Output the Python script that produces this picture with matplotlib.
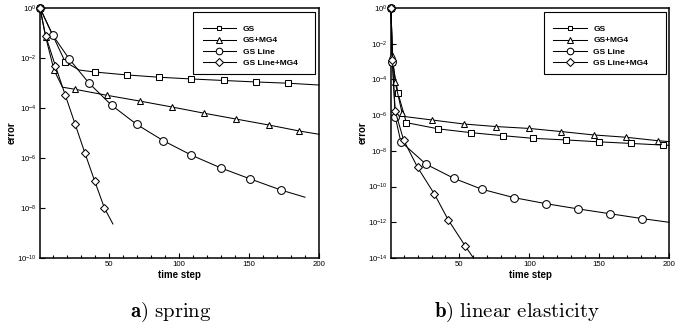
#!/usr/bin/env python

import numpy as np
import matplotlib
matplotlib.use('Agg')
import matplotlib.pyplot as plt
from matplotlib.lines import Line2D
from matplotlib.patches import Rectangle
from matplotlib.ticker import MultipleLocator, NullLocator, FixedLocator

plt.rcParams['font.family'] = ['Liberation Sans', 'DejaVu Sans']

labels = ['GS', 'GS+MG4', 'GS Line', 'GS Line+MG4']
markers = ['s', '^', 'o', 'D']
msizes = [4.0, 4.4, 5.6, 4.3]

# spring case: time step vs error
spring_gs_t = [1, 19, 29, 40, 63, 86, 109, 132, 155, 178, 200]
spring_gs_e = [1.0, 6.9e-3, 3.3e-3, 2.75e-3, 2.1e-3, 1.7e-3, 1.45e-3,
               1.26e-3, 1.1e-3, 9.8e-4, 8.3e-4]
spring_gs_m = [0, 1, 3, 4, 5, 6, 7, 8, 9]

spring_mg_t = [1, 5, 11, 17, 26, 49, 72, 95, 118, 141, 164, 186, 200]
spring_mg_e = [1.0, 7.1e-2, 3.3e-3, 6.8e-4, 5.6e-4, 3.2e-4, 1.9e-4,
               1.1e-4, 6.2e-5, 3.6e-5, 2.1e-5, 1.2e-5, 8.9e-6]
spring_mg_m = [0, 1, 2, 4, 5, 6, 7, 8, 9, 10, 11]

spring_line_t = [1, 10, 22, 36, 52, 70, 89, 109, 130, 151, 173, 190]
spring_line_e = [1.0, 8.3e-2, 8.9e-3, 9.8e-4, 1.3e-4, 2.2e-5, 4.9e-6,
                 1.3e-6, 4.0e-7, 1.45e-7, 5.2e-8, 2.7e-8]
spring_line_m = list(range(11))

spring_lmg_t = [1, 5, 12, 19, 26, 33, 40, 47, 53]
spring_lmg_e = [1.0, 7.8e-2, 4.8e-3, 3.3e-4, 2.3e-5, 1.6e-6, 1.2e-7,
                9.8e-9, 2.3e-9]
spring_lmg_m = list(range(8))

# linear elasticity case
elast_gs_t = [1, 2, 6, 12, 35, 58, 81, 103, 126, 150, 173, 196, 200]
elast_gs_e = [1.0, 1.0e-3, 1.7e-5, 3.8e-7, 1.7e-7, 1.05e-7, 7.1e-8,
              5.0e-8, 4.1e-8, 3.2e-8, 2.6e-8, 2.1e-8, 2.05e-8]
elast_gs_m = [0, 1, 2, 3, 4, 5, 6, 7, 8, 9, 10, 11]

elast_mg_t = [1, 2, 4, 9, 11, 30, 53, 76, 100, 123, 146, 169, 192, 200]
elast_mg_e = [1.0, 2.3e-3, 6.9e-5, 1.26e-6, 8.3e-7, 5.4e-7, 3.2e-7,
              2.3e-7, 1.8e-7, 1.2e-7, 7.8e-8, 5.8e-8, 3.7e-8, 3.3e-8]
elast_mg_m = [0, 1, 2, 3, 5, 6, 7, 8, 9, 10, 11, 12]

elast_line_t = [1, 2, 4, 8, 26, 46, 66, 89, 112, 135, 158, 181, 200]
elast_line_e = [1.0, 1.0e-3, 8.3e-7, 3.3e-8, 1.8e-9, 2.9e-10, 7.1e-11,
                2.4e-11, 1.1e-11, 5.6e-12, 3.0e-12, 1.6e-12, 1.0e-12]
elast_line_m = list(range(12))

elast_lmg_t = [1, 2, 4, 10, 20, 32, 42, 54, 60]
elast_lmg_e = [1.0, 1.2e-3, 1.7e-6, 4.1e-8, 1.2e-9, 3.9e-11, 1.35e-12,
               4.9e-14, 1.0e-14]
elast_lmg_m = list(range(8))

captions = [r'$\mathbf{a)}\ \mathrm{spring}$',
            r'$\mathbf{b)}\ \mathrm{linear\ elasticity}$']


def plot_history(ax, series, ymin):
    for (t, e, m), mk, ms in zip(series, markers, msizes):
        ax.plot(t, e, c='k', lw=0.75, marker=mk, ms=ms, mfc='w', mec='k',
                mew=0.75, markevery=m, clip_on=False, zorder=3)
    ax.set_yscale('log')
    ax.set_xlim(1, 200)
    ax.set_ylim(ymin, 1.0)
    ax.yaxis.set_major_locator(FixedLocator(10.0**np.arange(0, np.log10(ymin) - 1, -2)))
    ax.yaxis.set_minor_locator(NullLocator())
    ax.xaxis.set_major_locator(FixedLocator([50, 100, 150, 200]))
    ax.xaxis.set_minor_locator(MultipleLocator(10))
    ax.tick_params(which='both', direction='in', width=0.8, labelsize=5.6)
    ax.tick_params(which='major', length=3.8, pad=2.5)
    ax.tick_params(which='minor', length=2.3)
    for sp in ax.spines.values():
        sp.set_linewidth(1.1)
    ax.set_xlabel('time step', fontsize=7, fontweight='bold', labelpad=1)
    ax.set_ylabel('error', fontsize=7, fontweight='bold', labelpad=0)


def add_legend(fig, x0, y0):
    # frame is drawn separately so the box can be taller than the entries
    fig.add_artist(Rectangle((x0, y0), 122 / 687, 62 / 329, fill=False,
                             ec='k', lw=0.8, transform=fig.transFigure))
    handles = [Line2D([], [], c='k', lw=0.75, marker=mk, ms=ms * 0.85,
                      mfc='w', mec='k', mew=0.75)
               for mk, ms in zip(markers, msizes)]
    fig.legend(handles, labels, loc='upper left', frameon=False,
               bbox_to_anchor=(x0 + 9.7 / 687, y0 + 48.5 / 329),
               borderpad=0, borderaxespad=0, handlelength=4.0,
               handletextpad=0.8, labelspacing=0.4,
               prop={'size': 6, 'weight': 'bold'})


if __name__ == '__main__':
    fig = plt.figure(figsize=(6.87, 3.29), dpi=100)
    ax1 = fig.add_axes([40 / 687, 71 / 329, 279 / 687, 250 / 329])
    ax2 = fig.add_axes([391 / 687, 71 / 329, 278 / 687, 250 / 329])

    plot_history(ax1, [(spring_gs_t, spring_gs_e, spring_gs_m),
                       (spring_mg_t, spring_mg_e, spring_mg_m),
                       (spring_line_t, spring_line_e, spring_line_m),
                       (spring_lmg_t, spring_lmg_e, spring_lmg_m)], 1e-10)
    plot_history(ax2, [(elast_gs_t, elast_gs_e, elast_gs_m),
                       (elast_mg_t, elast_mg_e, elast_mg_m),
                       (elast_line_t, elast_line_e, elast_line_m),
                       (elast_lmg_t, elast_lmg_e, elast_lmg_m)], 1e-14)

    add_legend(fig, 193 / 687, 1 - 74 / 329)
    add_legend(fig, 543.5 / 687, 1 - 74 / 329)

    fig.text(171 / 687, 1 - 312 / 329, captions[0], ha='center', va='center',
             fontsize=15, math_fontfamily='cm')
    fig.text(517 / 687, 1 - 312 / 329, captions[1], ha='center', va='center',
             fontsize=15, math_fontfamily='cm')

    fig.savefig('out.png', dpi=100)
